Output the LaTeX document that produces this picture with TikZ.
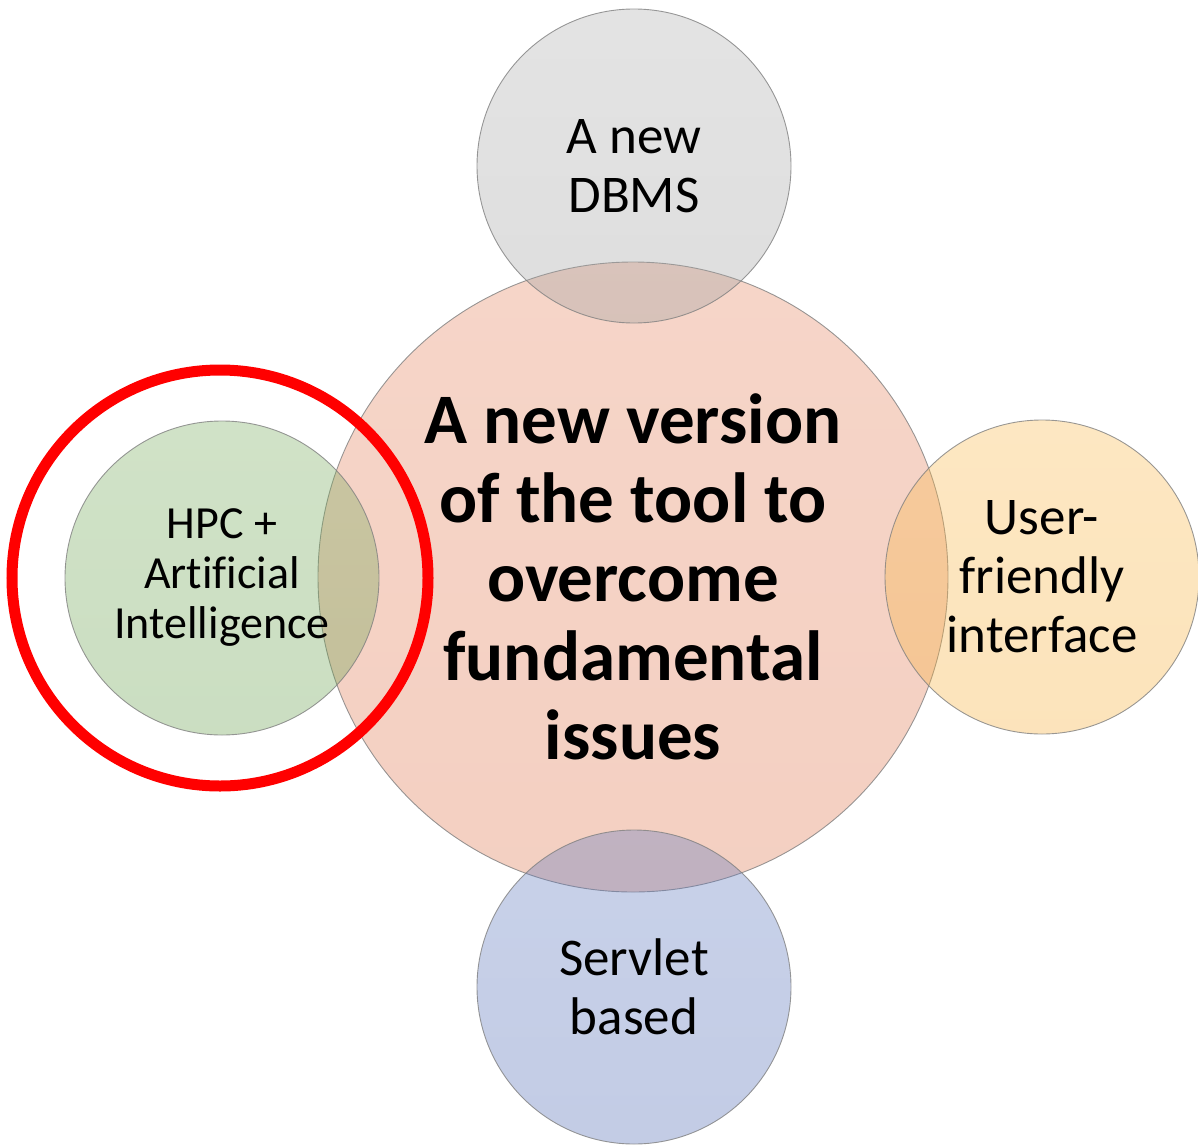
\documentclass[tikz,border=0pt]{standalone}
\usepackage{fontspec}
\setmainfont[Ligatures=NoCommon]{Carlito}
\definecolor{cOrange}{RGB}{229,135,98}
\definecolor{cOrangeB}{RGB}{222,118,78}
\definecolor{cGray}{RGB}{176,176,176}
\definecolor{cGrayB}{RGB}{160,160,160}
\definecolor{cGreen}{RGB}{121,172,95}
\definecolor{cGreenB}{RGB}{105,160,78}
\definecolor{cYellow}{RGB}{249,186,80}
\definecolor{cYellowB}{RGB}{245,176,60}
\definecolor{cBlue}{RGB}{98,124,192}
\definecolor{cBlueB}{RGB}{82,108,180}
\definecolor{cEdge}{RGB}{128,128,128}
\begin{document}
\begin{tikzpicture}[x=1pt,y=-1pt,
  bubble/.style={circle, draw=cEdge, line width=0.9pt, draw opacity=0.8,
    fill opacity=0.35, text opacity=1, align=center, inner sep=0pt,
    minimum size=314pt},
  smalltext/.style={font=\fontsize{53}{59}\selectfont},
  hpctext/.style={font=\fontsize{46}{50}\selectfont},
  bigtext/.style={font=\fontsize{71}{79}\selectfont\bfseries},
  highlight/.style={circle, draw=red, line width=11pt, inner sep=0pt, minimum size=416pt}]
\useasboundingbox (0,0) rectangle (1198,1145);
\node[bubble, minimum size=630pt, top color=cOrange, bottom color=cOrangeB, bigtext] (core) at (633,577)
  {A new version\\of the tool to\\overcome\\fundamental\\issues};
\node[bubble, top color=cGray, bottom color=cGrayB, smalltext] (dbms) at (634,166) {A new\\DBMS};
\node[bubble, top color=cYellow, bottom color=cYellowB, smalltext] (ui) at (1042,577) {User-\\friendly\\interface};
\node[bubble, top color=cBlue, bottom color=cBlueB, smalltext] (servlet) at (634,987) {Servlet\\based};
\node[bubble, top color=cGreen, bottom color=cGreenB, hpctext] (hpc) at (222,578) {HPC +\\Artificial\\Intelligence};
\node[highlight] (ring) at (220,578) {};
\end{tikzpicture}
\end{document}
